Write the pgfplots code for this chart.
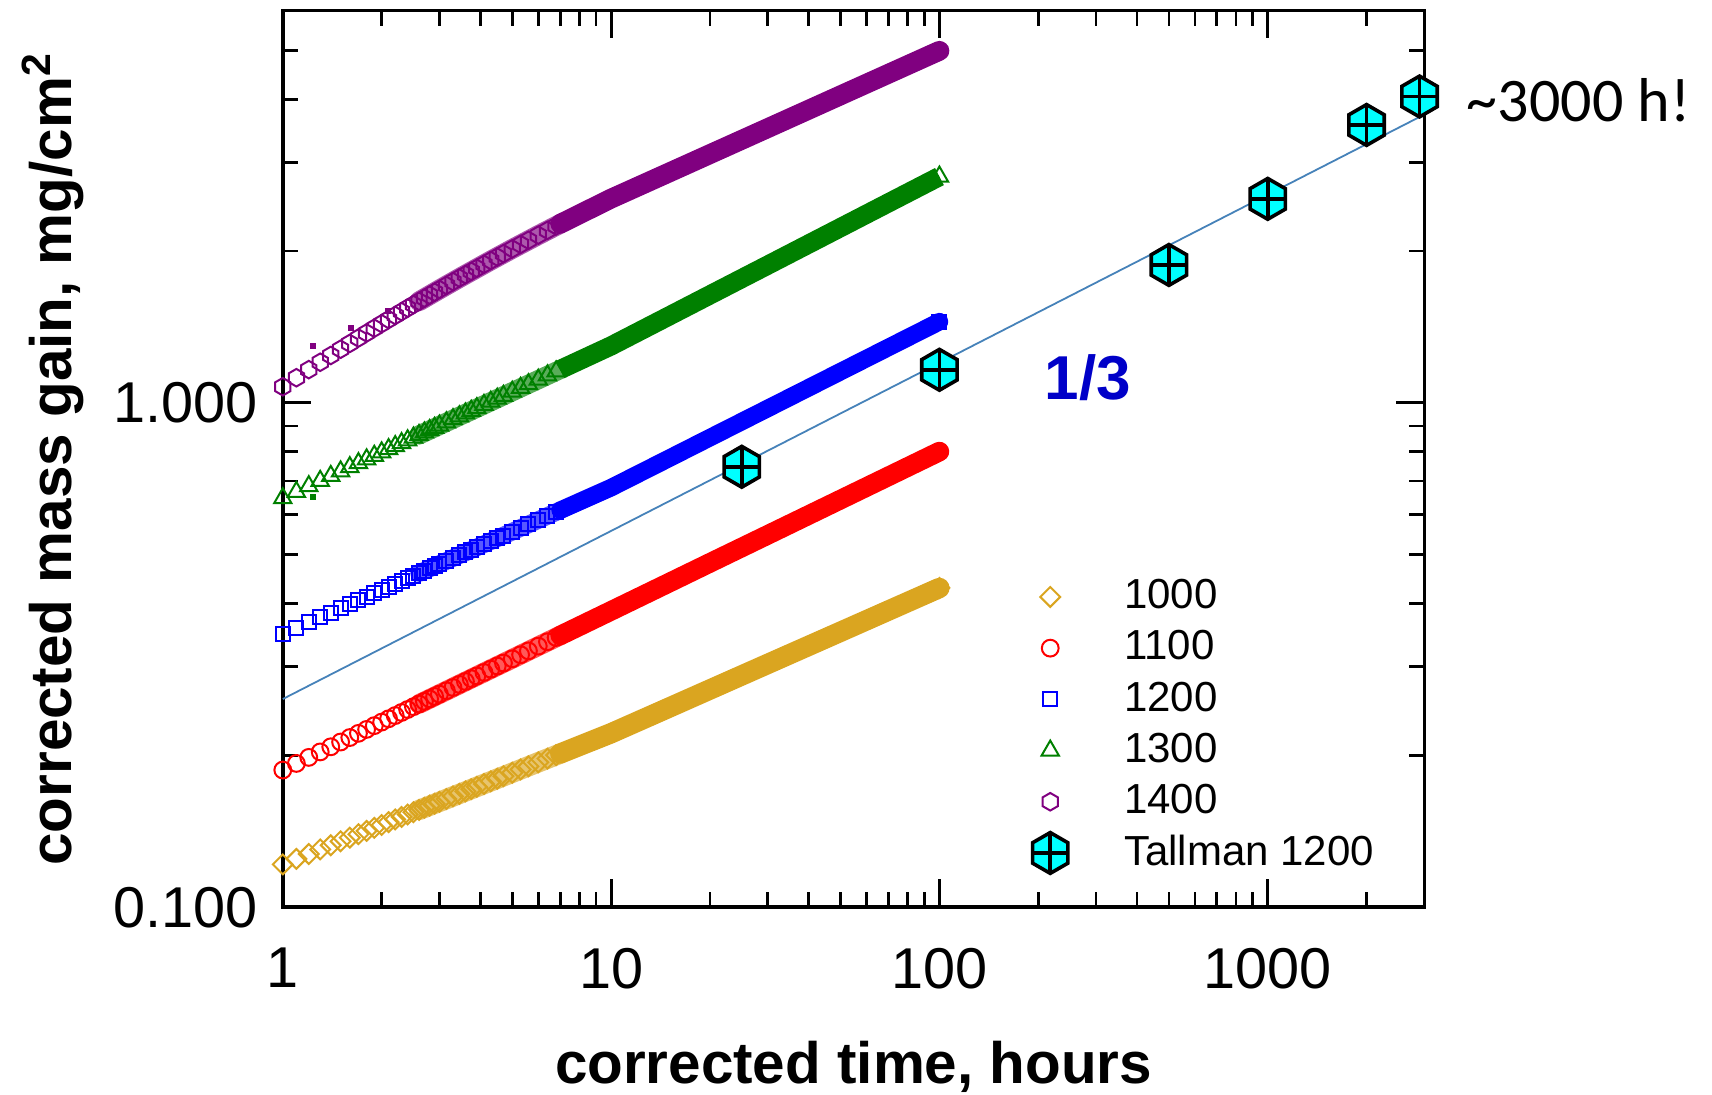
\documentclass[border=0pt]{standalone}
\usepackage{pgfplots}
\pgfplotsset{compat=1.18}
\usepackage{pgfplotstable}
\usepackage{fontspec}
\setmainfont{Liberation Sans}
\newfontfamily\carlito{Carlito}
\definecolor{cgold}{RGB}{218,165,32}
\definecolor{cred}{RGB}{255,0,0}
\definecolor{cblue}{RGB}{0,0,255}
\definecolor{cgreen}{RGB}{0,128,0}
\definecolor{cpurple}{RGB}{128,0,128}
\definecolor{ccyan}{RGB}{0,255,255}
\definecolor{cfit}{RGB}{70,130,185}
\definecolor{cthird}{RGB}{0,0,200}

\pgfdeclareplotmark{hexa}{%
  \pgfpathmoveto{\pgfpointpolar{90}{\pgfplotmarksize}}%
  \pgfpathlineto{\pgfpointpolar{150}{\pgfplotmarksize}}%
  \pgfpathlineto{\pgfpointpolar{210}{\pgfplotmarksize}}%
  \pgfpathlineto{\pgfpointpolar{270}{\pgfplotmarksize}}%
  \pgfpathlineto{\pgfpointpolar{330}{\pgfplotmarksize}}%
  \pgfpathlineto{\pgfpointpolar{30}{\pgfplotmarksize}}%
  \pgfpathclose
  \pgfusepathqstroke}
\pgfdeclareplotmark{tallman}{%
  \pgfpathmoveto{\pgfpointpolar{90}{\pgfplotmarksize}}%
  \pgfpathlineto{\pgfpointpolar{150}{\pgfplotmarksize}}%
  \pgfpathlineto{\pgfpointpolar{210}{\pgfplotmarksize}}%
  \pgfpathlineto{\pgfpointpolar{270}{\pgfplotmarksize}}%
  \pgfpathlineto{\pgfpointpolar{330}{\pgfplotmarksize}}%
  \pgfpathlineto{\pgfpointpolar{30}{\pgfplotmarksize}}%
  \pgfpathclose
  \pgfusepathqfillstroke
  \pgfpathmoveto{\pgfpointpolar{90}{\pgfplotmarksize}}%
  \pgfpathlineto{\pgfpointpolar{270}{\pgfplotmarksize}}%
  \pgfpathmoveto{\pgfpointpolar{180}{0.866\pgfplotmarksize}}%
  \pgfpathlineto{\pgfpointpolar{0}{0.866\pgfplotmarksize}}%
  \pgfusepathqstroke}

\pgfplotsset{myleg/.style={legend image code/.code={%
  \path[draw=none,fill=none] (-15pt,-6.4pt) rectangle (15pt,6.4pt);
  \draw[##1] plot coordinates {(0pt,0pt)};}}}

% sparse (open-marker) part of each series
\pgfplotstableread{
t    gold   red    blue   green  purple
1.0  0.1216 0.1871 0.3483 0.6471 1.0765
1.1  0.1247 0.1928 0.3581 0.6660 1.1216
1.2  0.1275 0.1982 0.3673 0.6838 1.1639
1.3  0.1302 0.2032 0.3759 0.7005 1.2038
1.4  0.1327 0.2080 0.3840 0.7164 1.2416
1.5  0.1351 0.2126 0.3918 0.7314 1.2776
1.6  0.1374 0.2170 0.3992 0.7458 1.3119
1.7  0.1396 0.2212 0.4063 0.7596 1.3446
1.8  0.1417 0.2252 0.4131 0.7728 1.3760
1.9  0.1437 0.2291 0.4196 0.7856 1.4062
2.0  0.1456 0.2328 0.4259 0.7978 1.4352
2.1  0.1475 0.2364 0.4320 0.8097 1.4632
2.2  0.1493 0.2399 0.4378 0.8211 1.4902
2.3  0.1510 0.2433 0.4435 0.8322 1.5163
2.4  0.1527 0.2466 0.4490 0.8430 1.5416
2.5  0.1543 0.2498 0.4544 0.8535 1.5661
2.6  0.1559 0.2529 0.4596 0.8636 1.5898
2.7  0.1575 0.2560 0.4646 0.8735 1.6129
2.8  0.1590 0.2589 0.4696 0.8832 1.6354
2.9  0.1604 0.2618 0.4744 0.8926 1.6573
3.0  0.1618 0.2646 0.4790 0.9018 1.6786
3.15 0.1639 0.2687 0.4859 0.9151 1.7095
3.3  0.1659 0.2727 0.4925 0.9281 1.7393
3.45 0.1678 0.2766 0.4989 0.9406 1.7682
3.6  0.1697 0.2803 0.5051 0.9528 1.7960
3.75 0.1715 0.2839 0.5111 0.9646 1.8230
3.9  0.1733 0.2875 0.5169 0.9761 1.8491
4.1  0.1755 0.2921 0.5245 0.9910 1.8828
4.3  0.1777 0.2965 0.5318 1.0053 1.9152
4.5  0.1798 0.3008 0.5388 1.0192 1.9464
4.7  0.1819 0.3049 0.5457 1.0327 1.9766
5.0  0.1848 0.3109 0.5555 1.0522 2.0200
5.3  0.1876 0.3167 0.5650 1.0709 2.0613
5.6  0.1903 0.3223 0.5741 1.0888 2.1008
6.0  0.1938 0.3294 0.5857 1.1117 2.1508
6.4  0.1971 0.3361 0.5968 1.1336 2.1983
6.8  0.2002 0.3426 0.6073 1.1546 2.2433
100  0.4295 0.8006 1.4488 2.8100 4.9888
}\sparse

% densely sampled part (overlapping markers), transitional
\pgfplotstableread{
t    gold   red    blue   green  purple
2.6  0.1559 0.2529 0.4596 0.8636 1.5898
3.0  0.1618 0.2646 0.4790 0.9018 1.6786
3.5  0.1684 0.2778 0.5009 0.9447 1.7775
4.3  0.1777 0.2965 0.5318 1.0053 1.9152
5.0  0.1848 0.3109 0.5555 1.0522 2.0200
6.0  0.1938 0.3294 0.5857 1.1117 2.1508
7    0.2017 0.3458 0.6125 1.1647 2.2649
}\bandA

% densely sampled part, solid
\pgfplotstableread{
t    gold   red    blue   green  purple
7    0.2017 0.3458 0.6125 1.1647 2.2649
10   0.2213 0.3870 0.6792 1.2972 2.5410
15   0.2487 0.4398 0.7761 1.4863 2.8615
20   0.2702 0.4817 0.8532 1.6370 3.1132
30   0.3037 0.5474 0.9749 1.8757 3.5058
50   0.3518 0.6432 1.1534 2.2265 4.0719
70   0.3876 0.7153 1.2884 2.4929 4.4938
100  0.4295 0.8006 1.4488 2.8100 4.9888
}\bandB

\pgfplotstableread{
t    m
25   0.747
100  1.163
500  1.877
1000 2.538
2000 3.557
2900 4.05
}\tallman

\begin{document}
\begin{tikzpicture}
\path[use as bounding box] (-70.7pt,-46.7pt) rectangle (357.3pt,226.8pt);
\begin{axis}[
  at={(0pt,0pt)}, anchor=south west,
  scale only axis, width=285.4pt, height=224.2pt,
  xmode=log, ymode=log,
  xmin=1, xmax=3000, ymin=0.1, ymax=6,
  xtick={1,10,100,1000}, xticklabels={1,10,100,1000},
  ytick={0.1,1}, yticklabels={0.100,1.000},
  minor xtick={2,3,4,5,6,7,8,9,20,30,40,50,60,70,80,90,200,300,400,500,600,700,800,900,2000,3000},
  minor ytick={0.2,0.3,0.4,0.5,0.6,0.7,0.8,0.9,2,3,4,5,6},
  tick align=inside,
  major tick length=7pt, minor tick length=3.9pt,
  tick style={black, line width=0.7pt},
  axis line style={line width=0.9pt},
  tick label style={font=\fontsize{14.4}{17}\selectfont},
  xticklabel style={yshift=-6.7pt},
  yticklabel style={xshift=-2.7pt},
  xlabel={corrected time, hours},
  ylabel={corrected mass gain, mg/cm\textsuperscript{2}},
  label style={font=\fontsize{14.6}{17}\selectfont\bfseries},
  xlabel style={at={(axis description cs:0.5,-0.1963)}, anchor=base},
  ylabel style={at={(axis description cs:-0.1848,0.5)}, anchor=base},
  clip=false,
  legend cell align=left,
  legend style={draw=none, fill=none, inner sep=0pt, at={(0.6190,0.3754)}, anchor=north west,
    font=\fontsize{10.5}{12.6}\selectfont, row sep=0pt, column sep=0pt,
    nodes={inner xsep=3.5pt, inner ysep=0pt, anchor=west}},
]
% 1000
\addplot[forget plot, mark=none, draw=cgold, draw opacity=0.65, line width=5.1pt, line cap=round] table[x=t,y=gold]{\bandA};
\addplot[forget plot, mark=none, draw=cgold, line width=5.1pt, line cap=round, line join=round] table[x=t,y=gold]{\bandB};
\addplot[only marks, cgold, line width=0.5pt, mark=square, mark size=1.75pt, mark options={rotate=45}, myleg] table[x=t,y=gold]{\sparse};
\addlegendentry{1000}
% 1100
\addplot[forget plot, mark=none, draw=cred, draw opacity=0.65, line width=4.9pt, line cap=round] table[x=t,y=red]{\bandA};
\addplot[forget plot, mark=none, draw=cred, line width=4.9pt, line cap=round, line join=round] table[x=t,y=red]{\bandB};
\addplot[only marks, cred, line width=0.5pt, mark=o, mark size=2.1pt, myleg] table[x=t,y=red]{\sparse};
\addlegendentry{1100}
% 1200
\addplot[forget plot, mark=none, draw=cblue, draw opacity=0.65, line width=4.4pt, line cap=round] table[x=t,y=blue]{\bandA};
\addplot[forget plot, mark=none, draw=cblue, line width=4.4pt, line cap=round, line join=round] table[x=t,y=blue]{\bandB};
\addplot[only marks, cblue, line width=0.5pt, mark=square, mark size=1.75pt, myleg] table[x=t,y=blue]{\sparse};
\addlegendentry{1200}
% 1300
\addplot[forget plot, mark=none, draw=cgreen, draw opacity=0.65, line width=4.8pt, line cap=round] table[x=t,y=green]{\bandA};
\addplot[forget plot, mark=none, draw=cgreen, line width=4.8pt, line cap=butt, line join=round] table[x=t,y=green]{\bandB};
\addplot[only marks, cgreen, line width=0.5pt, mark=triangle, mark size=2.5pt, myleg] table[x=t,y=green]{\sparse};
\addlegendentry{1300}
% 1400
\addplot[forget plot, mark=none, draw=cpurple, draw opacity=0.65, line width=4.95pt, line cap=round] table[x=t,y=purple]{\bandA};
\addplot[forget plot, mark=none, draw=cpurple, line width=4.95pt, line cap=round, line join=round] table[x=t,y=purple]{\bandB};
\addplot[only marks, cpurple, line width=0.5pt, mark=hexa, mark size=2.2pt, myleg] table[x=t,y=purple]{\sparse};
\addlegendentry{1400}
% stray points
\addplot[forget plot, only marks, cpurple, mark=square*, mark size=0.55pt] coordinates {(1.237,1.297) (1.608,1.406) (2.093,1.524)};
\addplot[forget plot, only marks, cgreen, mark=square*, mark size=0.55pt] coordinates {(1.24,0.652)};
% Tallman
\addplot[only marks, mark=tallman, mark size=5.1pt, draw=black, fill=ccyan, line width=0.9pt, myleg] table[x=t,y=m]{\tallman};
\addlegendentry{Tallman 1200}
% 1/3 fit
\addplot[forget plot, mark=none, cfit, line width=0.45pt] coordinates {(1,0.2587) (3000,3.731)};
\node[font=\fontsize{15.5}{18}\selectfont\bfseries, text=cthird] at (axis cs:283,1.121) {1/3};
\node[font=\carlito\fontsize{15.5}{18}\selectfont, anchor=base west, inner sep=0pt] at (axis cs:4019,3.606) {\textasciitilde 3000 h!};
\end{axis}
\end{tikzpicture}
\end{document}
